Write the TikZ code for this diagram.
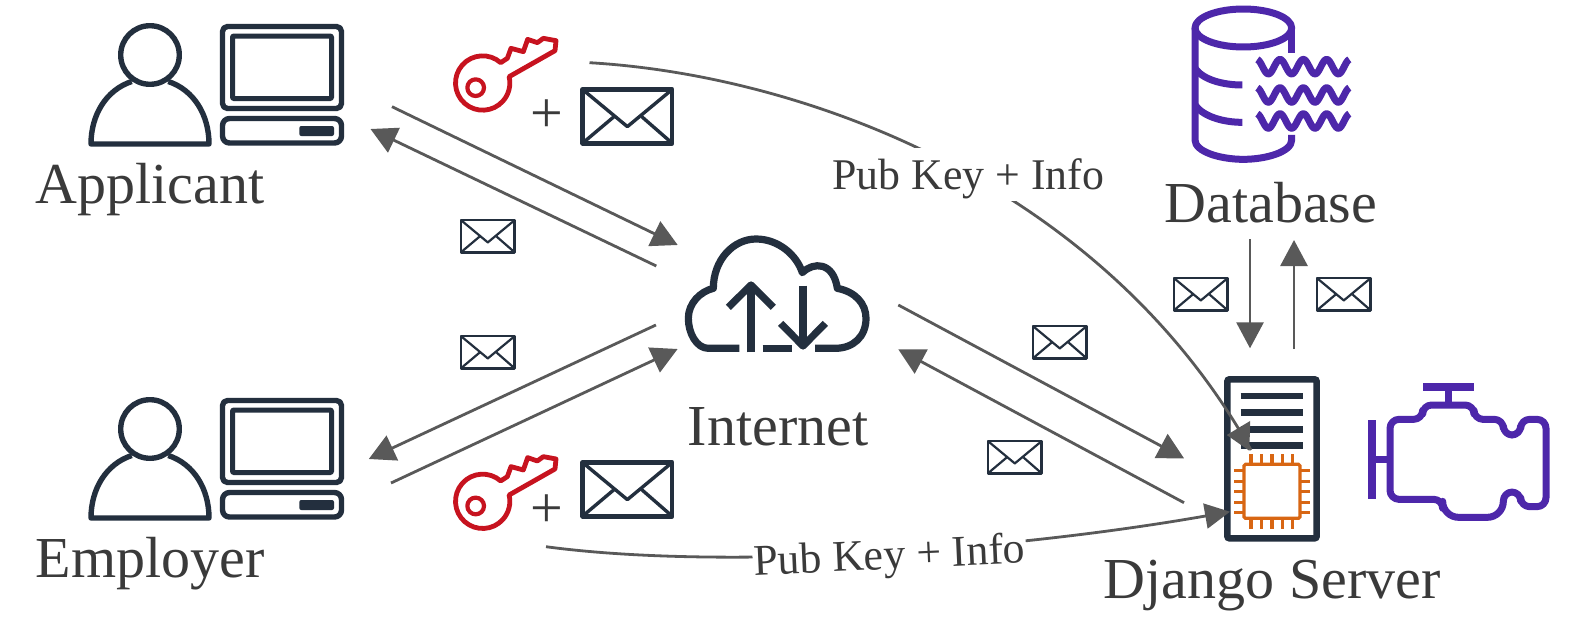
\documentclass[tikz,border=0pt]{standalone}
\usepackage{fontspec}
\setmainfont{Liberation Serif}
\usetikzlibrary{arrows.meta}
\definecolor{navy}{HTML}{232F3E}
\definecolor{keyred}{HTML}{C7131F}
\definecolor{dbpurple}{HTML}{4D27AA}
\definecolor{chiporange}{HTML}{D86613}
\definecolor{linegrey}{HTML}{595959}
\definecolor{textgrey}{HTML}{3A3A3A}
\tikzset{
  bigtext/.style={text=textgrey,inner sep=0pt,anchor=base,font=\fontsize{58}{60}\selectfont},
  linklabel/.style={text=textgrey,fill=white,inner xsep=1pt,inner ysep=0pt,anchor=base,font=\fontsize{43.8}{46}\selectfont},
  link/.style={draw=linegrey,line width=2.8pt,-{Triangle[length=26pt,width=27pt,sep=0pt]},color=linegrey},
  plainlink/.style={draw=linegrey,line width=2.8pt},
  local/.style={x=.33333pt,y=-.33333pt},
  pics/workstation/.style={code={
    \begin{scope}[draw=navy,line width=5.4pt,line join=round]
      \draw (150,55) circle[radius=29.3];
      \draw (131.7,81.5) .. controls (106,90) and (91,115) .. (91,144) -- (209,144) .. controls (209,115) and (194,90) .. (168.3,81.5);
      \draw[rounded corners=5pt] (222.5,26.5) rectangle (341.5,108.5);
      \draw[line width=5pt,rounded corners=1pt] (232.5,36) rectangle (331.5,98.5);
      \draw[rounded corners=7pt] (222.5,118.5) rectangle (341.5,143);
      \fill[navy,rounded corners=2pt] (299.3,126) rectangle (334,136);
    \end{scope}}},
  pics/keyicon/.style={code={
    \begin{scope}[local,draw=keyred,line width=4.8pt,line join=round]
      \draw (212,128) arc[start angle=-48.5,end angle=-373.4,radius=81.5] -- (375,92) -- (378,62) -- (340,55) -- (322,68) -- (293,58) -- (280,95) -- (243,85) -- (232,115) -- cycle;
      \draw[line width=4.2pt] (137,203) circle[radius=25];
    \end{scope}}},
  pics/env/.style 2 args={code={
    \begin{scope}[local,draw=navy,line join=round]
      \draw[line width=#1] (0,0) rectangle (268,162);
      \draw[line width=#2] (5,5) -- (134,112) -- (263,5);
      \draw[line width=#2] (5,157) -- (94,82);
      \draw[line width=#2] (263,157) -- (177,82);
    \end{scope}}},
  pics/cloudicon/.style={code={
    \begin{scope}[local,draw=navy,line width=7.2pt,line join=round]
      \draw (268,385) -- (175,385) .. controls (140,385) and (115,340) .. (115,295) .. controls (115,250) and (150,215) .. (190,205) .. controls (190,120) and (250,57) .. (318,57) .. controls (385,57) and (440,105) .. (457,158) .. controls (490,125) and (550,125) .. (562,205) .. controls (615,215) and (648,250) .. (648,295) .. controls (648,350) and (610,385) .. (555,385) -- (495,385);
      \draw (338,385) -- (425,385);
      \draw (303,397) -- (303,195);
      \draw (235,262) -- (303,195) -- (370,262);
      \draw (459,197) -- (459,378);
      \draw (392,310) -- (459,378) -- (526,310);
    \end{scope}}},
  pics/dbicon/.style={code={
    \begin{scope}[local,draw=dbpurple,line width=7pt,line join=round]
      \draw (280,84) ellipse[x radius=145,y radius=57];
      \draw (425,84) -- (425,158);
      \draw (135,84) -- (135,420) .. controls (135,455) and (210,478) .. (280,478) .. controls (350,478) and (425,455) .. (425,420) -- (425,405);
      \draw (135,205) .. controls (160,240) and (220,255) .. (277,255);
      \draw (135,315) .. controls (160,350) and (220,367) .. (277,367);
      \foreach \yc in {200,285,363}
        \draw[line width=7pt] plot[domain=322:598,samples=70,smooth] (\x,{\yc-22*cos((\x-320)/70*360)});
    \end{scope}}},
  pics/servericon/.style={code={
    \begin{scope}[local,draw=navy,line width=6.4pt]
      \draw[rounded corners=2pt] (172,58) rectangle (440,535);
      \foreach \yb in {108,158,208,257}
        \draw (212,\yb) -- (400,\yb);
      \begin{scope}[draw=chiporange,line width=3.2pt]
        \draw[rounded corners=1.5pt] (222,313) rectangle (390,475);
        \foreach \xp in {243,275,306,337,368}{
          \draw (\xp,283) -- (\xp,313);
          \draw (\xp,475) -- (\xp,507);}
        \foreach \yp in {332,364,395,427,458}{
          \draw (193,\yp) -- (222,\yp);
          \draw (390,\yp) -- (420,\yp);}
      \end{scope}
    \end{scope}}},
  pics/engineicon/.style={code={
    \begin{scope}[local,draw=dbpurple,line width=7pt,line join=round]
      \draw[line width=7.6pt] (606,180) -- (606,418);
      \draw (618,298) -- (660,298);
      \draw[line width=8pt] (760,82) -- (911,82);
      \draw (835,82) -- (835,135);
      \draw[rounded corners=9pt] (660,300) -- (660,178) -- (758,178) -- (758,135) -- (912,135) -- (912,178) -- (1000,178) -- (1000,225) -- (1052,225) -- (1052,178) -- (1128,178) -- (1128,440) -- (1052,440) -- (1052,396) -- (1000,396) [rounded corners=16pt] -- (1000,472) -- (818,472) [rounded corners=9pt] -- (818,418) -- (660,418) -- (660,300);
    \end{scope}}}
}
\begin{document}
\begin{tikzpicture}[x=1pt,y=-1pt]
  \fill[white] (0,0) rectangle (1581,621);
  \useasboundingbox (0,0) rectangle (1581,621);

  % icons
  \pic (applicant) at (0,0) {workstation};
  \pic (employer) at (0,374) {workstation};
  \pic (keya) at (430,20) {keyicon};
  \pic (keyb) at (430,438.3) {keyicon};
  \pic (enva) at (582.7,89.3) {env={4.6pt}{3.4pt}};
  \pic (envb) at (582.7,462.3) {env={4.6pt}{3.4pt}};
  \pic[scale=.6] (envc) at (461,220) {env={2.6pt}{2.2pt}};
  \pic[scale=.6] (envd) at (461,336) {env={2.6pt}{2.2pt}};
  \pic[scale=.6] (enve) at (1174,278) {env={2.6pt}{2.2pt}};
  \pic[scale=.6] (envf) at (1317,278) {env={2.6pt}{2.2pt}};
  \pic[scale=.6] (envg) at (1033,326) {env={2.6pt}{2.2pt}};
  \pic[scale=.6] (envh) at (988,441) {env={2.6pt}{2.2pt}};
  \pic (cloud) at (650,220) {cloudicon};
  \pic (database) at (1150,0) {dbicon};
  \pic (server) at (1170,360) {servericon};
  \pic (engine) at (1170,360) {engineicon};

  % texts
  \node[bigtext] (tapplicant) at (150.2,203.3) {Applicant};
  \node[bigtext] (temployer) at (150,577.3) {Employer};
  \node[bigtext] (tinternet) at (778,445) {Internet};
  \node[bigtext] (tdatabase) at (1270.8,222.7) {Database};
  \node[bigtext] (tdjango) at (1272.2,598.3) {Django Server};
  \node[bigtext] (plusa) at (547.3,132.5) {+};
  \node[bigtext] (plusb) at (547.3,527.5) {+};

  % connector ends
  \coordinate (a1) at (392,106.7);   \coordinate (a2) at (677.7,245);
  \coordinate (b1) at (656.3,266);   \coordinate (b2) at (370.5,129);
  \coordinate (c1) at (655.9,325);   \coordinate (c2) at (368.8,459);
  \coordinate (d1) at (391,483);     \coordinate (d2) at (677.6,349);
  \coordinate (e1) at (898.3,305);   \coordinate (e2) at (1184,458.3);
  \coordinate (f1) at (1184,502.7);  \coordinate (f2) at (898.3,349.3);
  \coordinate (g1) at (1250,239);    \coordinate (g2) at (1250,348.3);
  \coordinate (h1) at (1294,349);    \coordinate (h2) at (1294,240);
  \coordinate (k1) at (589.5,62.7);  \coordinate (k2) at (1251,450);
  \coordinate (k3) at (1249.8,435.8); \coordinate (k4) at (1226.7,435);
  \coordinate (m1) at (546,546.7);   \coordinate (m2) at (1230,511.7);

  % connectors
  \draw[link] (a1) -- (a2);
  \draw[link] (b1) -- (b2);
  \draw[link] (c1) -- (c2);
  \draw[link] (d1) -- (d2);
  \draw[link] (e1) -- (e2);
  \draw[link] (f1) -- (f2);
  \draw[link] (g1) -- (g2);
  \draw[link] (h1) -- (h2);
  \draw[plainlink] (k1) .. controls (800,75) and (1100,181) .. (k2);
  \draw[link,-{Triangle[length=23pt,width=29pt,sep=0pt]}] (k3) -- (k4);
  \draw[link,-{Triangle[length=25pt,width=25pt,sep=0pt]}] (m1) .. controls (720,570) and (1000,552) .. (m2);

  % connector labels
  \node[linklabel,text height=41pt,text depth=12pt] (lab1) at (968.3,189.3) {Pub Key + Info};
  \node[linklabel,rotate=2.6] (lab2) at (890,569) {Pub Key + Info};
\end{tikzpicture}
\end{document}
